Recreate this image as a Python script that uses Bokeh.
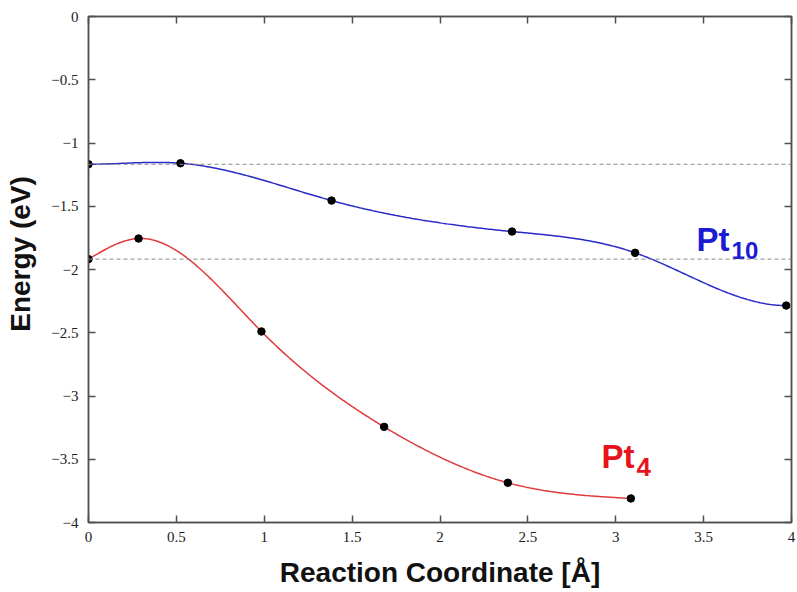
import numpy as np
from bokeh.plotting import figure
from bokeh.models import Range1d, FixedTicker, LinearAxis, Span, CustomJSTickFormatter
from bokeh.core.properties import value
from bokeh.embed import file_html
from bokeh.resources import INLINE

# ---- data ----
pt10_x = [0.0, 0.523, 1.383, 2.41, 3.11, 3.97]
pt10_y = [-1.168, -1.160, -1.455, -1.70, -1.868, -2.285]
pt4_x = [0.0, 0.285, 0.984, 1.682, 2.386, 3.086]
pt4_y = [-1.918, -1.755, -2.49, -3.244, -3.686, -3.81]
x_ticks = [0, 0.5, 1, 1.5, 2, 2.5, 3, 3.5, 4]
y_ticks = [0, -0.5, -1, -1.5, -2, -2.5, -3, -3.5, -4]


def cubic_spline(xs, ys, start_slope=None, end_slope=None, n=400):
    xs = np.asarray(xs, float)
    ys = np.asarray(ys, float)
    k = len(xs)
    h = np.diff(xs)
    A = np.zeros((k, k))
    b = np.zeros(k)
    for i in range(1, k - 1):
        A[i, i - 1] = h[i - 1]
        A[i, i] = 2 * (h[i - 1] + h[i])
        A[i, i + 1] = h[i]
        b[i] = 6 * ((ys[i + 1] - ys[i]) / h[i] - (ys[i] - ys[i - 1]) / h[i - 1])
    if start_slope is None:
        A[0, 0] = 1.0
    else:
        A[0, 0] = 2 * h[0]
        A[0, 1] = h[0]
        b[0] = 6 * ((ys[1] - ys[0]) / h[0] - start_slope)
    if end_slope is None:
        A[-1, -1] = 1.0
    else:
        A[-1, -2] = h[-1]
        A[-1, -1] = 2 * h[-1]
        b[-1] = 6 * (end_slope - (ys[-1] - ys[-2]) / h[-1])
    M = np.linalg.solve(A, b)
    xx = np.linspace(xs[0], xs[-1], n)
    yy = np.empty_like(xx)
    for j, x in enumerate(xx):
        i = min(np.searchsorted(xs, x, side="right") - 1, k - 2)
        hi = h[i]
        a = xs[i + 1] - x
        c = x - xs[i]
        yy[j] = (M[i] * a ** 3 / (6 * hi) + M[i + 1] * c ** 3 / (6 * hi)
                 + (ys[i] / hi - M[i] * hi / 6) * a
                 + (ys[i + 1] / hi - M[i + 1] * hi / 6) * c)
    return xx, yy


AXIS_COL = "#505050"
BLUE_LINE = "#2a2ac8"
RED_LINE = "#e03a3a"

p = figure(width=797, height=592, output_backend="svg", toolbar_location=None,
           x_range=Range1d(0, 4), y_range=Range1d(-4, 0),
           min_border_left=88, min_border_right=6,
           min_border_top=16, min_border_bottom=70)
p.background_fill_color = "white"
p.border_fill_color = "white"
p.outline_line_color = AXIS_COL
p.outline_line_width = 1.5
p.xgrid.visible = False
p.ygrid.visible = False

fmt = CustomJSTickFormatter(code="return String(tick).replace('-', '\\u2212');")

ax_props = dict(axis_line_color=AXIS_COL, axis_line_width=1.5,
                major_tick_line_color=AXIS_COL, major_tick_line_width=1.5,
                major_tick_in=7, major_tick_out=0,
                minor_tick_line_color=None,
                major_label_text_font="Liberation Serif",
                major_label_text_font_size="15px",
                major_label_text_color="#222222")
p.xaxis.update(**ax_props)
p.yaxis.update(**ax_props)
p.xaxis.ticker = FixedTicker(ticks=x_ticks)
p.yaxis.ticker = FixedTicker(ticks=y_ticks)
p.xaxis.formatter = fmt
p.yaxis.formatter = fmt
p.xaxis.major_label_standoff = 9
p.yaxis.major_label_standoff = 10

title_props = dict(axis_label_text_font="Liberation Sans",
                   axis_label_text_font_style="bold",
                   axis_label_text_font_size="28px",
                   axis_label_text_color="#111111")
p.xaxis.axis_label = "Reaction Coordinate [Å]"
p.xaxis.update(**title_props)
p.xaxis.axis_label_standoff = 12
p.yaxis.axis_label = "\u00a0" * 4 + "Energy (eV)"
p.yaxis.update(**title_props)
p.yaxis.axis_label_standoff = 12

# mirrored tick marks on top and right (labels not drawn)
mirror = dict(ax_props)
mirror.update(major_label_text_font_size="1px", major_label_text_color=None,
              major_label_standoff=0)
top = LinearAxis(ticker=FixedTicker(ticks=x_ticks), **mirror)
right = LinearAxis(ticker=FixedTicker(ticks=y_ticks), **mirror)
p.add_layout(top, "above")
p.add_layout(right, "right")

# reference dashed levels
for lvl in (pt10_y[0], pt4_y[0]):
    p.add_layout(Span(location=lvl, dimension="width", line_color="#8a8a8a",
                      line_width=1, line_dash="4 3"))

bx, by = cubic_spline(pt10_x, pt10_y, start_slope=0.0, end_slope=0.0)
rx, ry = cubic_spline(pt4_x, pt4_y)
p.line(bx, by, line_color=BLUE_LINE, line_width=1.5)
p.line(rx, ry, line_color=RED_LINE, line_width=1.5)
p.scatter(pt10_x, pt10_y, size=7.5, color="black")
p.scatter(pt4_x, pt4_y, size=7.5, color="black")

# series labels
sans = value("Liberation Sans")
p.text(x=[3.459], y=[-1.763], text=["Pt"], text_font=sans, text_font_style="bold",
       text_font_size="33px", text_color="#1b1bd2", text_baseline="alphabetic")
p.text(x=[3.659], y=[-1.850], text=["10"], text_font=sans, text_font_style="bold",
       text_font_size="24px", text_color="#1b1bd2", text_baseline="alphabetic")
p.text(x=[2.919], y=[-3.478], text=["Pt"], text_font=sans, text_font_style="bold",
       text_font_size="33px", text_color="#e8141c", text_baseline="alphabetic")
p.text(x=[3.118], y=[-3.565], text=["4"], text_font=sans, text_font_style="bold",
       text_font_size="26px", text_color="#e8141c", text_baseline="alphabetic")

open("out.html", "w").write(file_html(p, INLINE))
